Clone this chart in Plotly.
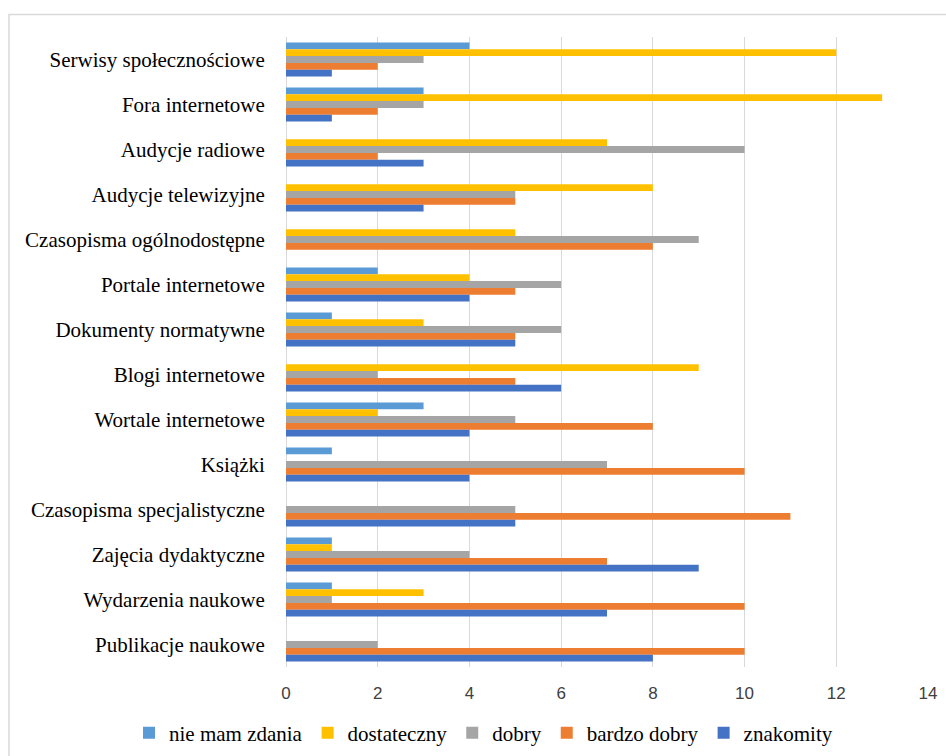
import plotly.graph_objects as go

categories = [
    "Serwisy społecznościowe",
    "Fora internetowe",
    "Audycje radiowe",
    "Audycje telewizyjne",
    "Czasopisma ogólnodostępne",
    "Portale internetowe",
    "Dokumenty normatywne",
    "Blogi internetowe",
    "Wortale internetowe",
    "Książki",
    "Czasopisma specjalistyczne",
    "Zajęcia dydaktyczne",
    "Wydarzenia naukowe",
    "Publikacje naukowe",
]

series_names = ["nie mam zdania", "dostateczny", "dobry", "bardzo dobry", "znakomity"]

nie_mam_zdania = [4, 3, 0, 0, 0, 2, 1, 0, 3, 1, 0, 1, 1, 0]
dostateczny    = [12, 13, 7, 8, 5, 4, 3, 9, 2, 0, 0, 1, 3, 0]
dobry          = [3, 3, 10, 5, 9, 6, 6, 2, 5, 7, 5, 4, 1, 2]
bardzo_dobry   = [2, 2, 2, 5, 8, 5, 5, 5, 8, 10, 11, 7, 10, 10]
znakomity      = [1, 1, 3, 3, 0, 4, 5, 6, 4, 4, 5, 9, 7, 8]

x_ticks = [0, 2, 4, 6, 8, 10, 12, 14]

colors = ["#5B9BD5", "#FFC000", "#A5A5A5", "#ED7D31", "#4472C4"]
values = [nie_mam_zdania, dostateczny, dobry, bardzo_dobry, znakomity]

fig = go.Figure()
for name, vals, col in zip(series_names, values, colors):
    fig.add_trace(go.Bar(
        y=categories, x=vals, name=name, orientation="h",
        marker=dict(color=col, line=dict(width=0)),
    ))

W, H = 946, 756
L, R, T, B = 286, 18, 37, 89
pw, ph = W - L - R, H - T - B

serif = "Liberation Serif"

fig.update_layout(
    width=W, height=H,
    margin=dict(l=L, r=R, t=T, b=B, pad=0, autoexpand=False),
    paper_bgcolor="white", plot_bgcolor="white",
    barmode="group", bargap=0.245, bargroupgap=0,
    font=dict(family=serif, size=21, color="#000000"),
    xaxis=dict(
        range=[0, 14], tickvals=x_ticks, showgrid=True, gridcolor="#D9D9D9", gridwidth=1,
        zeroline=True, zerolinecolor="#D9D9D9", zerolinewidth=1,
        showline=False, ticks="outside", ticklen=11, tickcolor="rgba(0,0,0,0)",
        tickfont=dict(family="Liberation Sans", size=17, color="#404040"),
        automargin=False,
    ),
    yaxis=dict(
        autorange="reversed", showgrid=False, showline=False, zeroline=False,
        ticks="outside", ticklen=16, tickcolor="rgba(0,0,0,0)",
        tickfont=dict(family=serif, size=21, color="#000000"),
        automargin=False,
    ),
    legend=dict(
        orientation="h", xref="paper", yref="paper",
        x=(129 - L) / pw, xanchor="left",
        y=(H - B - 733) / ph, yanchor="middle",
        font=dict(family=serif, size=21, color="#000000"),
        itemwidth=30, traceorder="normal", bgcolor="rgba(0,0,0,0)",
    ),
    showlegend=True,
    shapes=[dict(
        type="rect", xref="paper", yref="paper",
        x0=(9 - L) / pw, x1=(W + 20 - L) / pw,
        y0=(H - B - (H + 20)) / ph, y1=(H - B - 14.5) / ph,
        line=dict(color="#D9D9D9", width=1.5), fillcolor="rgba(0,0,0,0)", layer="below",
    )],
)

fig.write_html(
    "out.html",
    config={"displayModeBar": False},
    post_script="document.body.style.margin='0';document.body.style.overflow='hidden';",
)
